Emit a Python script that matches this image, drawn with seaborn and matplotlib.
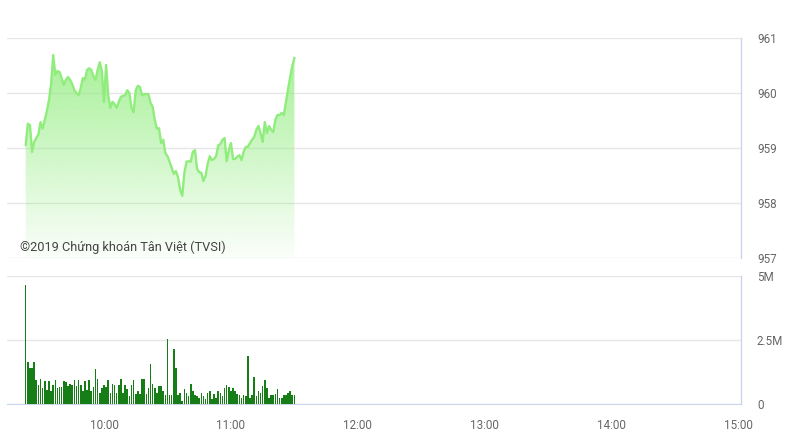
import matplotlib
matplotlib.use("Agg")
import matplotlib.pyplot as plt
import matplotlib.colors as mcolors
import numpy as np
import pandas as pd
import seaborn as sns

# one point per minute, 9:23 -> 11:30 (lunch break)
times = pd.date_range("2019-01-01 09:23", "2019-01-01 11:30", freq="1min")

prices = [
    959.05, 959.44, 959.42, 958.93, 959.11, 959.18, 959.25, 959.47, 959.35, 959.51,
    959.67, 959.87, 960.16, 960.69, 960.33, 960.40, 960.38, 960.27, 960.15, 960.24,
    960.29, 960.24, 960.16, 960.05, 960.00, 959.96, 960.09, 960.27, 960.24, 960.42,
    960.45, 960.42, 960.31, 960.24, 960.42, 960.56, 960.40, 959.84, 960.51, 959.96,
    959.73, 959.84, 959.80, 959.73, 959.84, 959.93, 959.95, 959.96, 960.05, 960.00,
    959.73, 959.65, 960.05, 960.13, 960.11, 959.96, 959.98, 959.98, 959.98, 959.82,
    959.75, 959.51, 959.35, 959.36, 959.09, 959.15, 958.91, 958.85, 958.75, 958.64,
    958.53, 958.58, 958.47, 958.24, 958.13, 958.55, 958.75, 958.76, 958.75, 958.93,
    958.96, 958.62, 958.56, 958.55, 958.40, 958.49, 958.71, 958.85, 958.78, 958.80,
    958.85, 959.05, 959.07, 959.15, 959.18, 958.76, 958.96, 959.09, 958.80, 958.80,
    958.84, 958.87, 958.78, 958.93, 959.02, 959.02, 959.09, 959.15, 959.20, 959.33,
    959.40, 959.27, 959.11, 959.47, 959.27, 959.40, 959.33, 959.29, 959.51, 959.60,
    959.60, 959.64, 959.60, 959.84, 960.07, 960.29, 960.49, 960.64,
]

# volume in millions of shares
volumes_m = [
    4.65, 1.65, 1.40, 1.40, 1.65, 0.94, 0.74, 0.97, 0.62, 0.90,
    0.55, 0.90, 0.50, 0.75, 0.95, 0.62, 0.65, 0.68, 0.90, 0.85,
    0.70, 0.80, 0.75, 0.95, 0.70, 0.95, 0.75, 0.50, 0.90, 0.55,
    0.95, 0.50, 0.68, 1.35, 0.97, 0.42, 0.62, 0.75, 0.68, 0.95,
    0.42, 0.80, 0.75, 0.42, 0.75, 0.97, 0.42, 0.75, 0.58, 0.30,
    0.75, 0.95, 0.40, 0.50, 0.40, 0.97, 0.97, 0.40, 0.62, 1.56,
    0.80, 0.62, 0.42, 0.70, 0.70, 0.50, 0.35, 2.53, 0.35, 0.35,
    2.14, 1.40, 0.35, 0.42, 0.13, 0.58, 0.42, 0.30, 0.80, 0.52,
    0.35, 0.30, 0.22, 0.42, 0.30, 0.18, 0.42, 0.50, 0.18, 0.40,
    0.22, 0.50, 0.42, 0.30, 0.62, 0.75, 0.68, 0.50, 0.62, 0.50,
    0.40, 0.35, 0.22, 0.35, 0.30, 1.88, 0.22, 0.35, 1.07, 0.30,
    0.50, 0.42, 0.70, 0.95, 0.62, 0.22, 0.35, 0.35, 0.40, 0.58,
    0.22, 0.22, 0.35, 0.35, 0.42, 0.50, 0.35, 0.35,
]

price_ticks = [957, 958, 959, 960, 961]
volume_ticks = [0, 2.5e6, 5e6]
volume_labels = ["0", "2.5M", "5M"]
hour_ticks = [10, 11, 12, 13, 14, 15]
hour_labels = ["10:00", "11:00", "12:00", "13:00", "14:00", "15:00"]
watermark = "©2019 Chứng khoán Tân Việt (TVSI)"

LINE = "#90ed7d"
BAR = "#177d17"
GRID = "#e6e6e6"
AXIS = "#ccd6eb"
LABEL = "#666666"

df = pd.DataFrame({"time": times, "price": prices, "volume": np.array(volumes_m) * 1e6})
df["hour"] = df["time"].dt.hour + df["time"].dt.minute / 60

sns.set_style("white")
plt.rcParams["font.family"] = ["Roboto", "DejaVu Sans"]

fig = plt.figure(figsize=(7.94, 4.46), dpi=100)
ax1 = fig.add_axes([7 / 794, 1 - 258 / 446, 734 / 794, 220 / 446])
ax2 = fig.add_axes([7 / 794, 1 - 404 / 446, 734 / 794, 128 / 446])

x_lim = (9.236, 15.018)

# --- price panel: gradient area + line
poly = ax1.fill_between(df["hour"], df["price"], 957, color="none", linewidth=0)
rgba = np.zeros((256, 1, 4))
rgba[:, 0, :3] = mcolors.to_rgb(LINE)
rgba[:, 0, 3] = np.linspace(0.85, 0.04, 256)
img = ax1.imshow(rgba, extent=[x_lim[0], x_lim[1], 957, 961], aspect="auto",
                 origin="upper", zorder=1, interpolation="bilinear")
img.set_clip_path(poly.get_paths()[0], transform=ax1.transData)
sns.lineplot(x="hour", y="price", data=df, ax=ax1, color=LINE, linewidth=1.7, zorder=3)

ax1.set_xlim(*x_lim)
ax1.set_ylim(957, 961)
ax1.set_yticks(price_ticks)
ax1.set_yticklabels([str(t) for t in price_ticks])
ax1.set_xticks([])
ax1.text(9.335, 957.2, watermark, fontsize=9.2, color="#444444", va="center", ha="left", zorder=4)

# --- volume panel
ax2.bar(df["hour"], df["volume"], width=0.0125, color=BAR, edgecolor="none",
        linewidth=0, antialiased=False, zorder=3)
ax2.set_xlim(*x_lim)
ax2.set_ylim(0, 5e6)
ax2.set_yticks(volume_ticks)
ax2.set_yticklabels(volume_labels)
ax2.set_xticks(hour_ticks)
ax2.set_xticklabels(hour_labels)

for ax in (ax1, ax2):
    ax.set_xlabel("")
    ax.set_ylabel("")
    ax.yaxis.tick_right()
    ax.grid(axis="y", color=GRID, linewidth=1)
    ax.set_axisbelow(True)
    for side in ("left", "top", "bottom"):
        ax.spines[side].set_visible(False)
    ax.spines["right"].set_color(AXIS)
    ax.spines["right"].set_linewidth(1)
    ax.tick_params(axis="y", length=0, pad=11.5, labelsize=8.4, labelcolor=LABEL)

ax2.spines["bottom"].set_visible(True)
ax2.spines["bottom"].set_color(AXIS)
ax2.tick_params(axis="x", length=5, width=1, color=AXIS, pad=6, labelsize=8.4, labelcolor=LABEL)
for lab in ax1.get_yticklabels() + ax2.get_yticklabels():
    lab.set_horizontalalignment("left")

fig.savefig("out.png", dpi=100)
